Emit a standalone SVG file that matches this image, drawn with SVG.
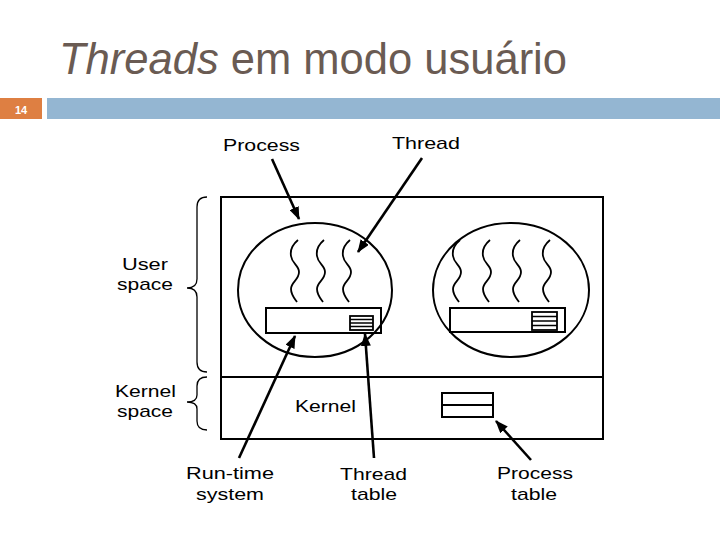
<svg xmlns="http://www.w3.org/2000/svg" width="720" height="540" viewBox="0 0 720 540">
<defs>
<style>
.lbl{font-family:"Liberation Sans",Arial,sans-serif;font-size:17px;fill:#000}
.ln{fill:none;stroke:#000;stroke-width:2}
.sq{fill:none;stroke:#000;stroke-width:1.8}
.br{fill:none;stroke:#000;stroke-width:1.3}
.ar{fill:none;stroke:#000;stroke-width:2.6;marker-end:url(#ah)}
</style>
<marker id="ah" markerUnits="userSpaceOnUse" markerWidth="14" markerHeight="10" refX="12" refY="5" orient="auto">
<path d="M0,0 L13,5 L0,10 Z" fill="#000"/>
</marker>
<path id="sqg" d="M3,0 C-3,5 -5,10 -4,16 C-3,24 4,25 4,32 C4,40 -4,42 -4,49 C-4,55 0,59 2,62"/>
</defs>
<rect width="720" height="540" fill="#fff"/>
<g id="header">
<text x="59" y="74" textLength="508" lengthAdjust="spacingAndGlyphs" style="font-family:'Liberation Sans',Arial,sans-serif;font-size:43.5px;fill:#6A5B53"><tspan font-style="italic">Threads</tspan> em modo usuário</text>
<rect x="0" y="98" width="42" height="21" fill="#DE7F42"/>
<rect x="47" y="98" width="673" height="21" fill="#94B6D2"/>
<text x="21" y="114" text-anchor="middle" style="font-family:'Liberation Sans',Arial,sans-serif;font-size:11px;font-weight:bold;fill:#fff">14</text>
</g>
<g id="system">
<rect class="ln" x="221" y="197" width="382" height="242"/>
<line class="ln" x1="221" y1="377" x2="603" y2="377"/>
</g>
<g id="process1">
<ellipse class="ln" cx="315" cy="290" rx="77" ry="67"/>
<use href="#sqg" class="sq" x="295" y="240"/>
<use href="#sqg" class="sq" x="321" y="240"/>
<use href="#sqg" class="sq" x="347" y="240"/>
<rect class="ln" x="266" y="308" width="115" height="25"/>
<rect x="350" y="316" width="23" height="14" fill="none" stroke="#000" stroke-width="1.8"/>
<path d="M350,319.5 H373 M350,323 H373 M350,326.5 H373" stroke="#000" stroke-width="1.3"/>
</g>
<g id="process2">
<ellipse class="ln" cx="511" cy="290" rx="78" ry="67"/>
<use href="#sqg" class="sq" x="457" y="240"/>
<use href="#sqg" class="sq" x="487" y="240"/>
<use href="#sqg" class="sq" x="517" y="240"/>
<use href="#sqg" class="sq" x="547" y="240"/>
<rect class="ln" x="450" y="308" width="115" height="24"/>
<rect x="532" y="312" width="25" height="18" fill="none" stroke="#000" stroke-width="1.8"/>
<path d="M532,316.5 H557 M532,321 H557 M532,325.5 H557" stroke="#000" stroke-width="1.3"/>
</g>
<g id="process-table">
<rect class="ln" x="442" y="393" width="51" height="24"/>
<line class="ln" x1="442" y1="405" x2="493" y2="405"/>
</g>
<g id="braces">
<path class="br" d="M207,197 Q197,197 197,207 L197,279 Q197,288 187,288 Q197,288 197,297 L197,362 Q197,372 207,372"/>
<path class="br" d="M207,377 Q197,377 197,386 L197,395 Q197,402 187,402 Q197,402 197,409 L197,421 Q197,430 207,430"/>
</g>
<g id="labels">
<text class="lbl" x="223" y="151" textLength="77" lengthAdjust="spacingAndGlyphs">Process</text>
<text class="lbl" x="392" y="149" textLength="68" lengthAdjust="spacingAndGlyphs">Thread</text>
<text class="lbl" x="122" y="270" textLength="46" lengthAdjust="spacingAndGlyphs">User</text>
<text class="lbl" x="117" y="290" textLength="56" lengthAdjust="spacingAndGlyphs">space</text>
<text class="lbl" x="115" y="397" textLength="61" lengthAdjust="spacingAndGlyphs">Kernel</text>
<text class="lbl" x="117" y="417" textLength="56" lengthAdjust="spacingAndGlyphs">space</text>
<text class="lbl" x="295" y="412" textLength="61" lengthAdjust="spacingAndGlyphs">Kernel</text>
<text class="lbl" x="186" y="479" textLength="88" lengthAdjust="spacingAndGlyphs">Run-time</text>
<text class="lbl" x="196" y="500" textLength="68" lengthAdjust="spacingAndGlyphs">system</text>
<text class="lbl" x="340" y="480" textLength="67" lengthAdjust="spacingAndGlyphs">Thread</text>
<text class="lbl" x="351" y="500" textLength="46" lengthAdjust="spacingAndGlyphs">table</text>
<text class="lbl" x="497" y="479" textLength="76" lengthAdjust="spacingAndGlyphs">Process</text>
<text class="lbl" x="511" y="500" textLength="46" lengthAdjust="spacingAndGlyphs">table</text>
</g>
<g id="connectors">
<line class="ar" x1="272" y1="159" x2="299" y2="219"/>
<line class="ar" x1="422" y1="158" x2="358" y2="252"/>
<line class="ar" x1="239" y1="458" x2="295" y2="336"/>
<line class="ar" x1="374" y1="458" x2="365" y2="334"/>
<line class="ar" x1="531" y1="460" x2="496" y2="421"/>
</g>
</svg>
